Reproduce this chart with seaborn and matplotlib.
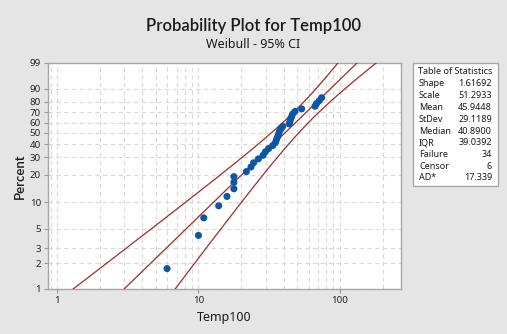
import numpy as np
import pandas as pd
import matplotlib
matplotlib.use("Agg")
import matplotlib.pyplot as plt
from matplotlib.patches import Rectangle
from matplotlib.ticker import FixedLocator, FixedFormatter, NullFormatter
import seaborn as sns

# Observed failure times (Temp100), sorted
failure_times = [6.0, 10.0, 10.9, 13.9, 15.9, 17.8, 17.8, 17.8, 21.8, 23.5,
                 24.5, 26.5, 28.6, 29.7, 31.3, 33.5, 35.0, 35.6, 36.2, 36.8,
                 37.3, 38.2, 39.4, 43.8, 44.3, 44.8, 45.6, 46.3, 48.1, 53.6,
                 66.6, 68.4, 71.4, 74.2]
n_failure = 34
n_censor = 6

# Fitted Weibull parameters and summary statistics
shape = 1.61692
scale = 51.2933
stat_names = ["Shape", "Scale", "Mean", "StDev", "Median", "IQR",
              "Failure", "Censor", "AD*"]
stat_values = ["1.61692", "51.2933", "45.9448", "29.1189", "40.8900",
               "39.0392", "34", "6", "17.339"]

# Variance model of log-percentile estimate: var = A + B*(w - w0)^2
var_min = 0.011
var_curv = 0.00746
var_center = 0.147
z95 = 1.96

y_ticks = [1, 2, 3, 5, 10, 20, 30, 40, 50, 60, 70, 80, 90, 99]
x_ticks = [1, 10, 100]

# Plotting positions (Benard median ranks)
n_total = n_failure + n_censor
ranks = np.arange(1, n_failure + 1)
percents = (ranks - 0.3) / (n_total + 0.4) * 100
points = pd.DataFrame({"Temp100": failure_times, "Percent": percents})

# Fitted line and 95% confidence bounds
p_grid = np.concatenate([np.linspace(0.05, 99.0, 400), np.linspace(99.0, 99.99, 50)])
w_grid = np.log(-np.log(1 - p_grid / 100))
log_mid = np.log(scale) + w_grid / shape
se = np.sqrt(var_min + var_curv * (w_grid - var_center) ** 2)
lines = pd.concat([
    pd.DataFrame({"x": np.exp(log_mid - z95 * se), "p": p_grid, "curve": "lower"}),
    pd.DataFrame({"x": np.exp(log_mid), "p": p_grid, "curve": "fit"}),
    pd.DataFrame({"x": np.exp(log_mid + z95 * se), "p": p_grid, "curve": "upper"}),
])

sns.set_theme(style="white")
plt.rcParams["font.family"] = ["Noto Sans", "DejaVu Sans"]
heading_font = ["Lato", "DejaVu Sans"]

W, H = 507, 334
fig = plt.figure(figsize=(W / 100, H / 100), dpi=100, facecolor="#e5e5e5")
ax = fig.add_axes([48 / W, 1 - 289 / H, 353 / W, 226 / H])
ax.set_facecolor("white")


def weib_fwd(p):
    p = np.clip(np.asarray(p, dtype=float), 1e-6, 100 - 1e-6)
    return np.log(-np.log(1 - p / 100))


def weib_inv(w):
    return 100 * (1 - np.exp(-np.exp(np.asarray(w, dtype=float))))


ax.set_xscale("log")
ax.set_yscale("function", functions=(weib_fwd, weib_inv))

sns.lineplot(data=lines, x="x", y="p", units="curve", estimator=None, sort=False,
             color="#9e2e26", linewidth=0.9, ax=ax, zorder=3)
sns.scatterplot(data=points, x="Temp100", y="Percent", color="#0d56a3", s=26,
                edgecolor="none", ax=ax, zorder=4)

ax.set_xlim(0.864, 270)
ax.set_ylim(1, 99)

ax.yaxis.set_major_locator(FixedLocator(y_ticks))
ax.yaxis.set_major_formatter(FixedFormatter([str(t) for t in y_ticks]))
ax.yaxis.set_minor_locator(FixedLocator([]))
ax.xaxis.set_major_locator(FixedLocator(x_ticks))
ax.xaxis.set_major_formatter(FixedFormatter([str(t) for t in x_ticks]))
minor_x = [m * 10.0 ** e for e in (-1, 0, 1, 2) for m in range(2, 10)]
ax.xaxis.set_minor_locator(FixedLocator(minor_x))
ax.xaxis.set_minor_formatter(NullFormatter())

ax.grid(True, which="both", color="#d9d9d9", linestyle=(0, (4, 3)), linewidth=0.8)
ax.set_axisbelow(True)
ax.tick_params(axis="both", which="major", length=3, width=0.8, color="#9a9a9a",
               labelsize=7, labelcolor="#262626", pad=2, direction="out",
               bottom=True, left=True)
ax.tick_params(axis="x", which="minor", length=0)
for s in ax.spines.values():
    s.set_color("#a6a6a6")
    s.set_linewidth(1.0)

ax.set_xlabel("Temp100", fontsize=9, color="#1a1a1a", labelpad=4)
ax.set_ylabel("Percent", fontsize=9.5, color="#1a1a1a", labelpad=3,
              family=heading_font, fontweight="semibold")

fig.text(0.5, 1 - 26 / H, "Probability Plot for Temp100", ha="center",
         va="center", fontsize=12, color="#1a1a1a", family=heading_font,
         fontweight="semibold")
fig.text(0.5, 1 - 45 / H, "Weibull - 95% CI", ha="center", va="center",
         fontsize=9, color="#1a1a1a")

# Table of statistics
fig.patches.append(Rectangle((413 / W, 1 - 186 / H), 85 / W, 123 / H,
                             transform=fig.transFigure, facecolor="white",
                             edgecolor="#a6a6a6", linewidth=1.0))
fig.text(455 / W, 1 - 72 / H, "Table of Statistics", ha="center", va="center",
         fontsize=6.5, color="#1a1a1a")
for k, (name, val) in enumerate(zip(stat_names, stat_values)):
    y = 1 - (84 + 11.75 * k) / H
    fig.text(419 / W, y, name, ha="left", va="center", fontsize=6.5, color="#1a1a1a")
    fig.text(492 / W, y, val, ha="right", va="center", fontsize=6.5, color="#1a1a1a")

fig.savefig("out.png", dpi=100, facecolor=fig.get_facecolor())
